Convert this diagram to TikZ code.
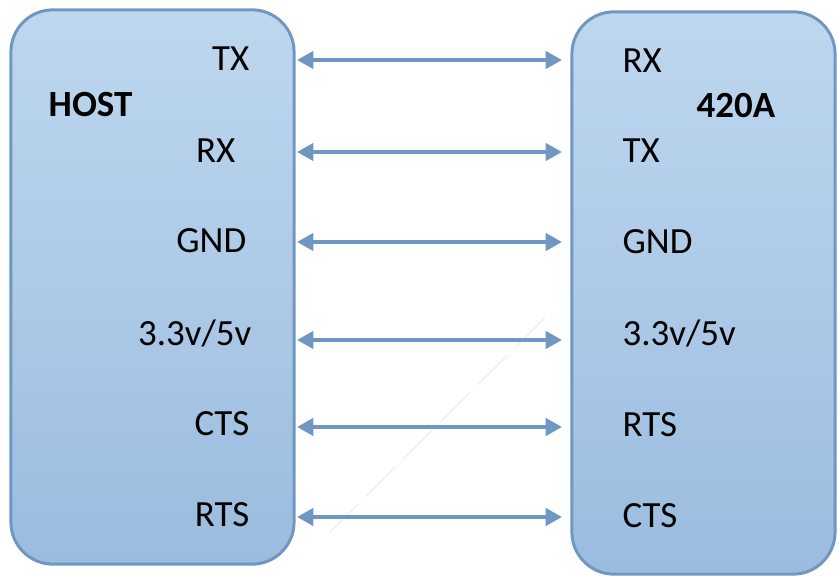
\documentclass[tikz,border=0pt]{standalone}
\usepackage{fontspec}
\setmainfont{Carlito}
\usetikzlibrary{arrows.meta}
\definecolor{boxline}{RGB}{112,151,194}
\definecolor{boxtop}{RGB}{190,215,239}
\definecolor{boxbottom}{RGB}{155,188,223}
\newcommand{\pinfont}{\fontsize{10.5}{12}\selectfont}

\begin{document}
\begin{tikzpicture}[x=0.01cm,y=-0.01cm,
	board/.style={draw=boxline,line width=0.85pt,rounded corners=0.42cm,%
		top color=boxtop,bottom color=boxbottom,inner sep=0pt,outer sep=0pt},
	pin/.style={inner sep=0pt,font=\pinfont},
	title/.style={inner sep=0pt,font=\pinfont\bfseries},
	link/.style={draw=boxline,line width=0.95pt,%
		{Triangle[length=4.6pt,width=4.9pt]}-{Triangle[length=4.6pt,width=4.9pt]},%
		shorten <=0.03cm,shorten >=0.1cm}
	]
	\useasboundingbox (0,0) rectangle (838,576);

	% the two boards
	\node[board,minimum width=2.83cm,minimum height=5.54cm] (host) at (152.5,287) {};
	\node[board,minimum width=2.63cm,minimum height=5.62cm] (dev) at (703.5,293) {};

	\node[title,anchor=base west] (hostname) at (48,117) {HOST};
	\node[title,anchor=base west] (devname) at (696,118) {420A};

	% pins on the host side
	\node[pin,anchor=base east] (h1) at (250,71) {TX};
	\node[pin,anchor=base east] (h2) at (236,163) {RX};
	\node[pin,anchor=base east] (h3) at (247,253) {GND};
	\node[pin,anchor=base east] (h4) at (252,346) {3.3v/5v};
	\node[pin,anchor=base east] (h5) at (250,436) {CTS};
	\node[pin,anchor=base east] (h6) at (250,527) {RTS};

	% pins on the 420A side
	\node[pin,anchor=base west] (d1) at (622,73) {RX};
	\node[pin,anchor=base west] (d2) at (622,163) {TX};
	\node[pin,anchor=base west] (d3) at (622,254) {GND};
	\node[pin,anchor=base west] (d4) at (622,346) {3.3v/5v};
	\node[pin,anchor=base west] (d5) at (622,437) {RTS};
	\node[pin,anchor=base west] (d6) at (622,528) {CTS};

	% faint stray stroke
	\draw[gray!14,line width=0.3pt,dash pattern=on 12pt off 3pt] (545,318) -- (330,532);

	% wires
	\foreach \y in {60,152,242,340,427,517}
		\draw[link] (host.east |- 0,\y) -- (dev.west |- 0,\y);
\end{tikzpicture}
\end{document}
